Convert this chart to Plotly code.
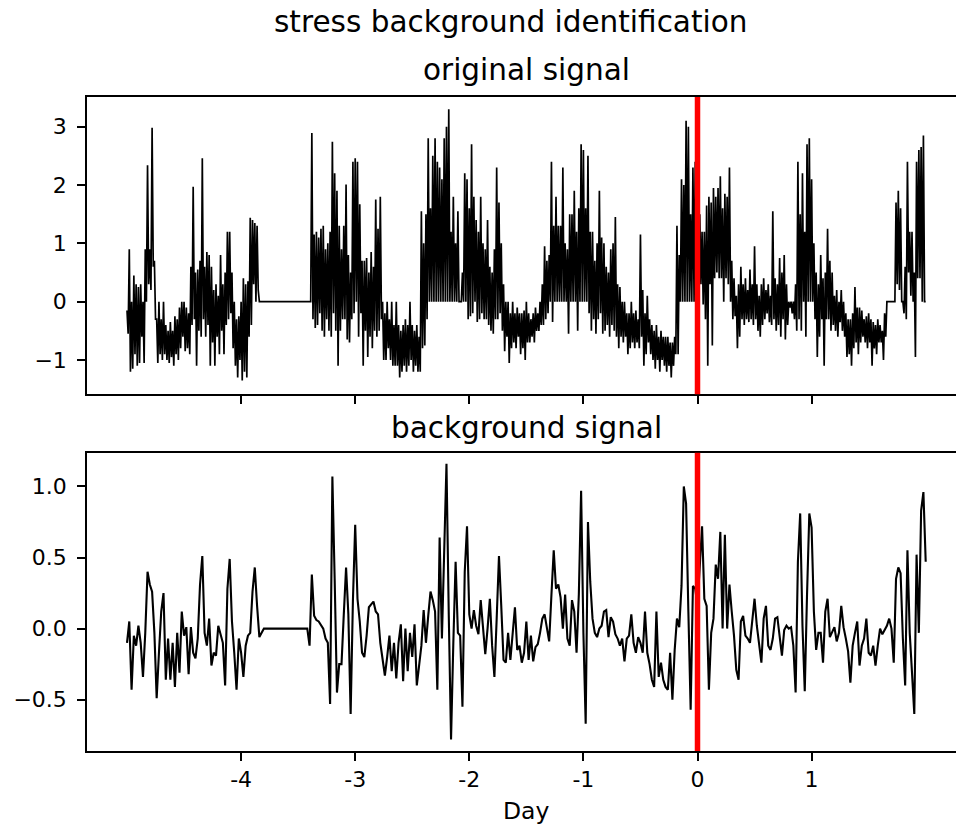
import numpy as np
import plotly.graph_objects as go

# ---------------- data ----------------
day_start = -5.0
day_step = 0.02          # spacing of the readings below (days)

# original signal: upper and lower extent of the dense trace at each reading
original_upper = [
    -0.15, 0.9, 0.0, 0.45, 0.3,
    0.25, 0.3, 0.0, 0.9, 2.34,
    0.9, 2.98, 0.7, -0.3, 0.0,
    -0.3, 0.0, -0.4, -0.5, -0.35,
    -0.5, -0.25, -0.3, -0.1, 0.0,
    0.0, -0.1, -0.2, 0.6, 1.97,
    0.5, 0.55, 0.7, 2.46, 0.6,
    0.85, 0.8, 0.6, 0.2, 0.3,
    0.1, 0.8, 0.3, 0.5, 1.2,
    1.2, 0.5, 0.0, -0.3, -0.25,
    0.0, 0.4, 0.3, 0.35, 1.44,
    1.4, 1.35, 1.3, 0.0, 0.0,
    0.0, 0.0, 0.0, 0.0, 0.0,
    0.0, 0.0, 0.0, 0.0, 0.0,
    0.0, 0.0, 0.0, 0.0, 0.0,
    0.0, 0.0, 0.0, 0.0, 0.0,
    0.0, 2.89, 1.15, 1.2, 1.1,
    1.25, 1.3, 0.9, 1.0, 1.2,
    2.74, 2.2, 1.9, 1.3, 0.9,
    1.3, 2.01, 0.8, 0.5, 2.4,
    2.46, 2.4, 1.67, 0.7, 0.7,
    0.75, 0.5, 0.85, 0.6, 1.75,
    1.25, 1.8, 0.0, -0.2, 0.0,
    -0.3, 0.0, -0.4, 0.0, -0.4,
    -0.5, -0.4, -0.3, -0.4, 0.0,
    -0.4, -0.5, -0.4, -0.6, 1.55,
    1.0, 1.5, 2.8, 1.6, 2.5,
    2.8, 2.4, 2.3, 2.1, 2.8,
    3.0, 3.3, 1.2, 1.8, 1.0,
    1.55, 0.0, 0.5, 2.2, 2.1,
    1.6, 2.7, 1.8, 1.4, 1.2,
    1.8, 1.0, 0.9, 1.4, 0.6,
    0.5, 0.9, 2.3, 1.7, 1.0,
    0.3, 0.0, 0.0, -0.2, 0.0,
    -0.2, -0.1, -0.2, -0.2, -0.15,
    0.0, -0.2, -0.3, -0.2, -0.1,
    -0.2, 0.0, 0.3, 0.95, 0.7,
    0.8, 2.4, 1.3, 1.8, 1.3,
    1.3, 2.3, 1.0, 0.9, 1.5,
    1.5, 1.9, 1.2, 1.6, 2.7,
    2.6, 1.6, 2.5, 1.2, 1.2,
    0.7, 1.0, 1.9, 1.1, 1.0,
    0.6, 0.5, 0.9, 1.0, 1.45,
    0.3, 0.25, 0.0, 0.0, -0.2,
    -0.2, 0.0, -0.2, -0.15, -0.3,
    1.15, 0.2, -0.2, 0.1, -0.3,
    -0.4, -0.5, -0.4, -0.6, -0.5,
    -0.6, -0.6, -0.6, -0.7, -0.7,
    -0.6, 1.3, 0.8, 2.1, 2.0,
    3.1, 3.0, 1.5, 2.3, 2.4,
    2.3, 1.5, 1.2, 1.2, 1.65,
    1.8, 1.7, 1.95, 1.8, 1.95,
    2.15, 1.6, 1.85, 1.8, 2.3,
    0.7, 0.4, 0.1, 0.3, 0.6,
    0.3, 0.4, 0.2, 0.55, 0.3,
    0.95, 0.3, 0.1, 0.3, 0.4,
    0.2, 0.3, 0.1, 1.55, 0.4,
    0.3, 0.75, 0.5, 0.8, 0.3,
    0.0, 0.0, 0.0, 0.3, 2.4,
    1.5, 2.2, 1.2, 2.7, 2.8,
    2.1, 1.0, 0.5, 0.3, 0.8,
    0.4, 0.5, 1.25, 0.7, 0.5,
    0.1, 0.2, 0.0, 0.2, 0.0,
    -0.2, -0.3, -0.3, -0.2, 0.25,
    -0.1, -0.1, -0.15, -0.3, -0.25,
    -0.2, -0.3, -0.35, -0.4, -0.3,
    -0.4, -0.5, -0.2, 0.0, 0.0,
    0.0, 0.0, 1.7, 1.9, 1.6,
    0.0, 0.6, 2.4, 1.2, 1.2,
    0.5, 2.4, 2.6, 2.65, 2.85,
    0.0,
]

original_lower = [
    -0.55, -1.2, -1.15, -0.9, -1.1,
    -1.05, -0.6, -1.05, 0.0, 0.3,
    0.2, 0.6, -0.3, -1.05, -0.9,
    -1.0, -0.9, -1.0, -1.05, -0.95,
    -1.1, -0.9, -1.0, -0.8, -0.6,
    -0.85, -0.8, -0.9, -0.4, -0.3,
    -1.1, -0.5, -0.6, -0.3, -0.6,
    -0.4, -1.1, -0.7, -1.1, -0.6,
    -0.9, -0.5, -0.9, -0.4, -0.3,
    -0.2, -0.8, -1.1, -1.3, -1.0,
    -1.35, -1.2, -1.3, -0.6, -0.4,
    0.3, 0.0, 0.2, 0.0, 0.0,
    0.0, 0.0, 0.0, 0.0, 0.0,
    0.0, 0.0, 0.0, 0.0, 0.0,
    0.0, 0.0, 0.0, 0.0, 0.0,
    0.0, 0.0, 0.0, 0.0, 0.0,
    0.0, -0.3, -0.45, -0.4, -0.2,
    -0.5, -0.6, -0.3, -0.5, -0.6,
    -0.2, -0.5, -1.1, -0.5, -0.3,
    -0.3, -0.65, -0.7, -0.3, -0.2,
    0.0, -0.6, -0.2, -1.1, -0.5,
    -0.95, -0.6, -0.8, -0.5, -0.6,
    -0.5, -0.3, -1.0, -1.0, -0.8,
    -1.0, -1.1, -1.1, -1.1, -1.3,
    -1.2, -1.1, -1.2, -1.1, -1.0,
    -1.2, -1.1, -1.2, -1.2, -0.8,
    -0.75, -0.3, 0.0, 0.0, 0.0,
    0.0, 0.0, 0.0, 0.0, 0.0,
    0.0, 0.0, 0.0, 0.0, 0.0,
    0.0, 0.0, 0.0, 0.0, -0.3,
    -0.25, -0.2, 0.0, -0.35, -0.3,
    -0.2, -0.3, -0.3, -0.4, -0.5,
    -0.55, -0.3, -0.3, -0.2, -0.5,
    -0.85, -0.6, -1.05, -0.8, -0.7,
    -0.8, -0.6, -0.9, -0.8, -1.0,
    -0.7, -0.7, -0.6, -0.7, -0.5,
    -0.5, -0.4, -0.4, -0.3, -0.2,
    0.0, -0.35, 0.0, 0.0, 0.0,
    0.0, 0.0, 0.0, -0.55, 0.0,
    0.0, 0.0, -0.5, 0.0, 0.0,
    0.0, 0.0, -0.2, -0.5, -0.3,
    -0.55, -0.3, -0.2, -0.55, -0.5,
    -0.4, -0.6, -0.4, -0.5, -0.6,
    -0.8, -0.6, -0.7, -0.6, -0.9,
    -0.8, -0.7, -0.8, -0.7, -0.8,
    -0.6, -1.1, -0.9, -0.7, -0.9,
    -1.0, -1.15, -1.0, -1.2, -1.0,
    -1.1, -1.2, -1.1, -1.3, -1.1,
    -0.9, -0.9, 0.0, 0.0, 0.0,
    0.0, 0.0, 0.0, 0.0, 0.0,
    0.0, 0.3, -0.05, -0.3, -1.1,
    0.3, -0.75, 0.4, 0.5, 0.4,
    0.4, 0.0, 0.4, 0.3, 0.0,
    -0.3, -0.25, -0.8, -0.6, -0.3,
    -0.4, -0.3, -0.35, -0.3, -0.4,
    -0.3, -0.5, -0.6, -0.4, -0.3,
    -0.2, -0.35, -0.4, -0.3, -0.5,
    -0.4, -0.6, -0.3, -0.65, -0.4,
    -0.1, -0.2, -0.3, -0.5, -0.3,
    -0.5, 0.0, -0.6, 0.0, 0.0,
    0.0, -0.3, -0.95, -0.6, -0.3,
    -1.1, -0.3, -0.3, -0.5, -0.4,
    -0.5, -0.6, -0.35, -0.5, -0.6,
    -0.95, -0.9, -1.1, -0.8, -0.7,
    -0.9, -0.7, -0.6, -0.7, -0.8,
    -0.7, -1.1, -0.8, -0.9, -0.7,
    -0.7, -1.0, -0.6, 0.0, 0.0,
    0.0, 0.0, 0.3, 0.2, 0.0,
    -0.2, -0.3, 0.5, 0.1, 0.0,
    -0.95, 0.4, 0.4, 0.0, 0.0,
]

background_signal = [
    -0.1, 0.05, -0.43, -0.05, -0.12,
    0.02, -0.1, -0.34, -0.03, 0.4,
    0.31, 0.26, -0.03, -0.49, -0.17,
    0.12, 0.25, -0.36, -0.07, -0.36,
    -0.1, -0.41, -0.03, -0.31, 0.12,
    -0.05, 0.01, -0.32, 0.01, -0.17,
    -0.21, -0.07, 0.31, 0.51, -0.03,
    -0.12, 0.07, -0.26, -0.17, -0.19,
    0.02, -0.05, -0.1, -0.4, 0.28,
    0.49, 0.05, -0.17, -0.43, -0.07,
    -0.17, -0.34, -0.12, -0.05, -0.03,
    0.26, 0.43, 0.16, -0.06, -0.03,
    0.0, 0.0, 0.0, 0.0, 0.0,
    0.0, 0.0, 0.0, 0.0, 0.0,
    0.0, 0.0, 0.0, 0.0, 0.0,
    0.0, 0.0, 0.0, 0.0, 0.0,
    -0.12, 0.38, 0.09, 0.06, 0.05,
    0.02, 0.0, -0.07, -0.1, -0.53,
    1.07, 0.35, -0.45, -0.25, -0.25,
    0.1, 0.43, 0.1, -0.6, 0.2,
    0.73, 0.21, 0.05, -0.17, -0.2,
    -0.05, 0.15, 0.17, 0.19, 0.12,
    0.1, -0.1, -0.2, -0.33, -0.2,
    -0.05, -0.3, -0.1, -0.35, -0.1,
    0.03, -0.37, 0.0, -0.3, -0.03,
    -0.2, 0.03, -0.4, -0.26, -0.12,
    0.13, -0.1, 0.09, 0.26, 0.2,
    0.12, -0.43, 0.64, -0.07, 0.5,
    1.16, 0.1, -0.78, -0.1, 0.47,
    -0.03, -0.05, -0.55, 0.4, 0.72,
    0.1, 0.0, 0.13, 0.02, -0.04,
    0.2, 0.02, -0.18, 0.0, 0.21,
    -0.12, -0.34, 0.07, 0.51, 0.16,
    -0.22, -0.24, -0.03, -0.22, -0.03,
    0.15, -0.15, -0.12, -0.24, -0.17,
    0.05, -0.22, -0.05, -0.23, -0.13,
    -0.11, -0.03, 0.07, 0.1, 0.01,
    -0.09, 0.24, 0.55, 0.28, 0.31,
    0.22, 0.0, 0.24, -0.07, -0.12,
    0.2, 0.12, -0.17, 0.24, 0.97,
    -0.03, -0.67, 0.75, 0.33, 0.07,
    -0.03, -0.06, 0.0, 0.02, 0.12,
    0.13, -0.06, 0.08, 0.05, -0.04,
    -0.07, -0.12, -0.07, -0.23, -0.07,
    -0.05, 0.1, -0.1, -0.17, -0.06,
    -0.1, -0.17, 0.12, -0.17, -0.25,
    -0.36, -0.41, 0.12, -0.34, -0.24,
    -0.36, -0.41, -0.43, -0.17, -0.5,
    -0.15, 0.07, 0.01, 0.3, 1.0,
    0.88, 0.12, -0.57, 0.3, 0.28,
    0.16, 0.47, 0.72, 0.21, 0.16,
    -0.43, -0.03, 0.07, 0.45, 0.35,
    0.68, 0.0, 0.66, 0.0, 0.31,
    0.12, -0.05, -0.29, -0.36, 0.05,
    0.09, -0.05, -0.07, -0.1, 0.07,
    0.21, 0.02, -0.12, -0.24, 0.07,
    0.16, -0.12, -0.15, -0.07, 0.07,
    0.08, -0.05, -0.19, -0.01, 0.02,
    0.0, 0.01, -0.12, -0.45, 0.47,
    0.81, 0.02, -0.44, 0.24, 0.81,
    0.71, 0.12, -0.15, -0.03, -0.03,
    -0.24, 0.12, 0.21, -0.06, -0.03,
    0.01, -0.09, -0.03, 0.16, 0.01,
    -0.07, -0.16, -0.38, -0.12, -0.03,
    0.05, -0.26, -0.12, -0.07, 0.07,
    -0.17, -0.19, -0.12, -0.26, -0.12,
    0.0, -0.04, -0.01, 0.02, 0.07,
    0.0, -0.24, 0.35, 0.43, 0.39,
    -0.07, -0.4, 0.55, -0.03, -0.31,
    -0.6, 0.52, -0.03, 0.83, 0.96,
    0.47,
]

x_tick_vals = [-4, -3, -2, -1, 0, 1]
x_tick_text = ["-4", "-3", "-2", "-1", "0", "1"]
top_y_tick_vals = [-1, 0, 1, 2, 3]
top_y_tick_text = ["\u22121", "0", "1", "2", "3"]
bot_y_tick_vals = [-0.5, 0.0, 0.5, 1.0]
bot_y_tick_text = ["\u22120.5", "0.0", "0.5", "1.0"]
stress_day = 0

suptitle = "stress background identification"
top_title = "original signal"
bottom_title = "background signal"
x_label = "Day"

# ---------------- build traces ----------------
# the dense original trace swings between its upper and lower extent
orig_x, orig_y = [], []
for k in range(len(original_upper)):
    d = day_start + k * day_step
    orig_x.append(d)
    orig_y.append(original_upper[k])
    if k < len(original_lower):
        orig_x.append(d + day_step / 2)
        orig_y.append(original_lower[k])

days_bot = day_start + day_step * np.arange(len(background_signal))

FONT = "DejaVu Sans"
fig = go.Figure()
fig.add_trace(go.Scatter(x=orig_x, y=orig_y, mode="lines",
                         line=dict(color="black", width=1.7),
                         xaxis="x", yaxis="y", showlegend=False, hoverinfo="skip"))
fig.add_trace(go.Scatter(x=days_bot, y=background_signal, mode="lines",
                         line=dict(color="black", width=2.1),
                         xaxis="x2", yaxis="y2", showlegend=False, hoverinfo="skip"))

x_range = [-5.3506, 2.2656]
common_axis = dict(showgrid=False, zeroline=False, showline=True, linecolor="black",
                   linewidth=1.5, ticks="outside", ticklen=8, tickwidth=1.5,
                   tickcolor="black", tickfont=dict(family=FONT, size=22, color="black"))

fig.update_layout(
    width=956, height=827,
    margin=dict(l=87, r=0, t=97, b=76),
    paper_bgcolor="white", plot_bgcolor="white",
    font=dict(family=FONT, color="black"),
    xaxis=dict(common_axis, domain=[0, 1], anchor="y", range=x_range,
               tickvals=x_tick_vals, showticklabels=False, mirror=True),
    yaxis=dict(common_axis, domain=[0.5454, 1], anchor="x", range=[-1.588, 3.509],
               tickvals=top_y_tick_vals, ticktext=top_y_tick_text, mirror=False,
               ticklabelstandoff=6),
    xaxis2=dict(common_axis, domain=[0, 1], anchor="y2", range=x_range,
                tickvals=x_tick_vals, ticktext=x_tick_text, mirror=True,
                ticklabelstandoff=0),
    yaxis2=dict(common_axis, domain=[0, 0.4561], anchor="x2", range=[-0.861, 1.237],
                tickvals=bot_y_tick_vals, ticktext=bot_y_tick_text, mirror=False,
                ticklabelstandoff=6),
    shapes=[
        dict(type="line", xref="x", yref="y domain", x0=stress_day, x1=stress_day,
             y0=0, y1=1, line=dict(color="red", width=5.5), layer="above"),
        dict(type="line", xref="x2", yref="y2 domain", x0=stress_day, x1=stress_day,
             y0=0, y1=1, line=dict(color="red", width=5.5), layer="above"),
    ],
    annotations=[
        dict(text=suptitle, xref="paper", yref="paper", x=0.4879, y=1.0862,
             xanchor="center", yanchor="bottom", showarrow=False,
             font=dict(family=FONT, size=29.5, color="black")),
        dict(text=top_title, xref="paper", yref="paper", x=0.5058, y=1.0128,
             xanchor="center", yanchor="bottom", showarrow=False,
             font=dict(family=FONT, size=29.5, color="black")),
        dict(text=bottom_title, xref="paper", yref="paper", x=0.5058, y=0.4654,
             xanchor="center", yanchor="bottom", showarrow=False,
             font=dict(family=FONT, size=29.5, color="black")),
        dict(text=x_label, xref="paper", yref="paper", x=0.5052, y=-0.1162,
             xanchor="center", yanchor="bottom", showarrow=False,
             font=dict(family=FONT, size=23.5, color="black")),
    ],
)

fig.write_html("out.html")
